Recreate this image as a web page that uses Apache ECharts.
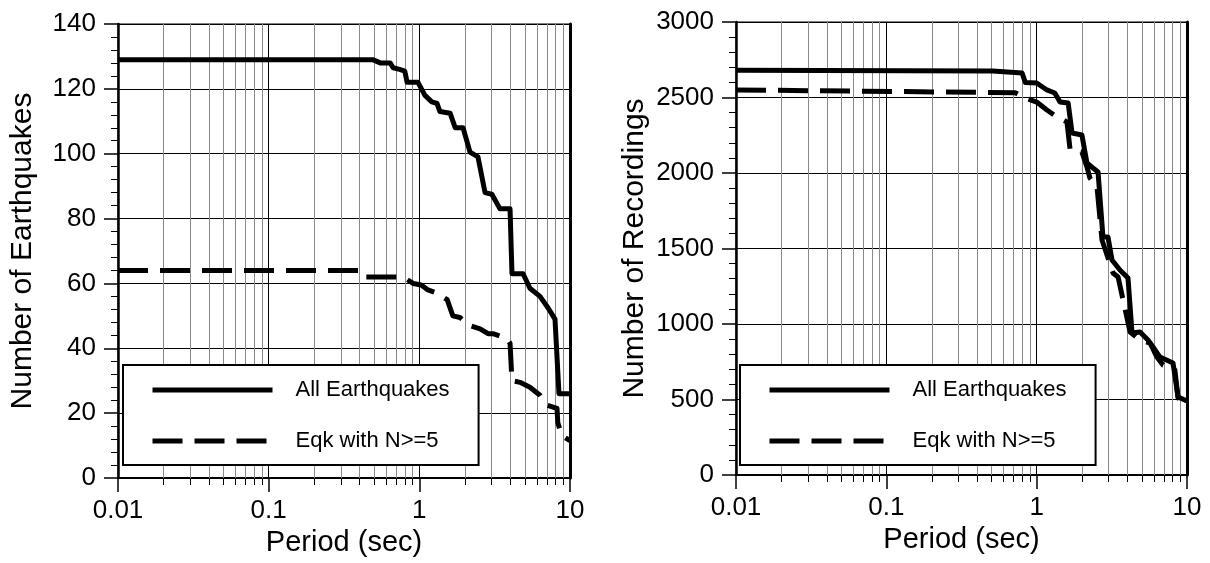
<!DOCTYPE html>
<html><head><meta charset="utf-8">
<script src="https://cdn.jsdelivr.net/npm/echarts@6/dist/echarts.min.js"></script>
<style>html,body{margin:0;padding:0;background:#fff}#c{width:1210px;height:563px}</style>
</head><body><div id="c"></div>
<script>
// ---- data ----
const xTickLabels = ['0.01', '0.1', '1', '10'];
const minorPeriods = [0.02,0.03,0.04,0.05,0.06,0.07,0.08,0.09,0.2,0.3,0.4,0.5,0.6,0.7,0.8,0.9,2,3,4,5,6,7,8,9];
const seriesNames = ['All Earthquakes', 'Eqk with N>=5'];

// Left: number of earthquakes
const eqAllPeriod = [0.01,0.49,0.55,0.64,0.67,0.74,0.80,0.83,0.98,1.09,1.21,1.31,1.37,1.60,1.73,1.95,2.17,2.45,2.73,3.03,3.43,4.00,4.12,4.88,5.42,6.32,7.14,7.95,8.45,10];
const eqAllCount  = [129,129,128,128,126.5,126,125.5,122,122,118,116,115.5,113,112.5,108,108,100.5,99,88,87.5,83,83,63,63,58.5,56,52.5,49,26,26];
const eqN5Period  = [0.01,0.415,0.44,0.78,0.91,1.03,1.14,1.31,1.53,1.67,1.86,2.17,2.53,2.86,3.08,3.82,4.00,4.12,4.66,5.42,6.32,7.03,8.20,8.30,8.85,10];
const eqN5Count   = [64,64,62,62,60,59.5,58,57,55,50,49.5,47,46,44.5,44.5,43,41.5,30,29.5,28,25.5,22.5,21.5,17,13,11.5];

// Right: number of recordings
const recAllPeriod = [0.01,0.51,0.80,0.84,1.00,1.17,1.32,1.43,1.62,1.72,2.00,2.16,2.37,2.56,2.76,2.98,3.17,3.58,4.05,4.31,4.87,5.50,5.94,6.61,8.07,8.72,10];
const recAllCount  = [2680,2675,2662,2600,2596,2550,2530,2470,2463,2265,2252,2066,2033,2007,1576,1576,1424,1358,1305,940,947,894,848,781,742,517,490];
const recN5Period  = [0.01,0.72,0.84,1.00,1.17,1.36,1.59,1.67,2.00,2.16,2.26,2.52,2.72,3.22,3.48,4.18,4.87,5.68,6.31,6.92,8.31,8.72,10];
const recN5Count   = [2550,2532,2497,2470,2417,2371,2338,2152,2139,2040,1967,1907,1556,1338,1311,947,894,874,781,728,695,510,477];

// ---- chart ----
const FONT = 'Liberation Sans';
const zip = (a, b) => a.map((v, i) => [v, b[i]]);

function minorRender(params, api) {
  const cs = params.coordSys;
  let x = api.coord([api.value(0), api.value(1)])[0];
  x = Math.round(x) + 0.5;
  const bottom = cs.y + cs.height;
  return {
    type: 'group',
    children: [
      { type: 'line', shape: { x1: x, y1: cs.y, x2: x, y2: bottom }, style: { stroke: '#8a8a8a', lineWidth: 1 } },
      { type: 'line', shape: { x1: x, y1: bottom, x2: x, y2: bottom + 7 }, style: { stroke: '#000', lineWidth: 1 } }
    ]
  };
}

function xAxisCfg(gi) {
  return {
    gridIndex: gi, type: 'log', logBase: 10, min: 0.01, max: 10,
    name: 'Period (sec)', nameLocation: 'middle', nameGap: 50,
    nameTextStyle: { fontFamily: FONT, fontSize: 29, color: '#000' },
    axisLine: { show: true, onZero: false, lineStyle: { color: '#000', width: 2 } },
    axisTick: { show: true, inside: false, length: 14, lineStyle: { color: '#000', width: 1.5 } },
    axisLabel: { fontFamily: FONT, fontSize: 26, color: '#000', margin: 20,
      formatter: v => { const i = Math.round(Math.log10(v)) + 2; return xTickLabels[i] !== undefined ? xTickLabels[i] : ''; } },
    splitLine: { show: true, lineStyle: { color: '#000', width: 1 } },
    minorTick: { show: false }, minorSplitLine: { show: false }
  };
}
function yAxisCfg(gi, max, interval, name, gap) {
  return {
    gridIndex: gi, type: 'value', min: 0, max: max, interval: interval,
    name: name, nameLocation: 'middle', nameGap: gap,
    nameTextStyle: { fontFamily: FONT, fontSize: 30, color: '#000' },
    axisLine: { show: true, lineStyle: { color: '#000', width: 2.5 } },
    axisTick: { show: true, inside: false, length: 14, lineStyle: { color: '#000', width: 1.5 } },
    minorTick: { show: true, splitNumber: 5, length: 7, lineStyle: { color: '#000', width: 1 } },
    axisLabel: { fontFamily: FONT, fontSize: 26, color: '#000', margin: 22, formatter: v => String(v) },
    splitLine: { show: true, lineStyle: { color: '#000', width: 1 } }
  };
}
function rightBorder(gi, max) {
  return {
    gridIndex: gi, type: 'value', min: 0, max: max, position: 'right',
    axisLine: { show: true, lineStyle: { color: '#000', width: 3 } },
    axisTick: { show: false }, axisLabel: { show: false }, splitLine: { show: false }
  };
}
function legendCfg(left) {
  return {
    left: left, top: 365, orient: 'vertical', data: seriesNames,
    itemWidth: 120, itemHeight: 14, itemGap: 27,
    padding: [13, 29, 12, 27],
    borderColor: '#000', borderWidth: 2, backgroundColor: '#fff',
    selectedMode: false,
    itemStyle: { opacity: 0 },
    lineStyle: { width: 5, color: '#000' },
    textStyle: { fontFamily: FONT, fontSize: 22, color: '#000', padding: [0, 0, 0, 18], lineHeight: 24 }
  };
}
function lineSeries(name, xi, yi, data, dashed) {
  return {
    name: name, type: 'line', xAxisIndex: xi, yAxisIndex: yi, data: data,
    symbol: 'none', showSymbol: false, z: 5, animation: false,
    lineStyle: { color: '#000', width: 5, type: dashed ? [30, 12] : 'solid', join: 'round', cap: 'butt' },
    itemStyle: { color: '#000' }
  };
}
function minorSeries(xi, yi) {
  return {
    type: 'custom', xAxisIndex: xi, yAxisIndex: yi, clip: false, z: 1, silent: true, animation: false,
    data: minorPeriods.map(p => [p, 0]), renderItem: minorRender
  };
}

const chart = echarts.init(document.getElementById('c'), null, { renderer: 'canvas' });
chart.setOption({
  animation: false,
  backgroundColor: '#fff',
  grid: [
    { left: 118, top: 24, width: 452, height: 454, show: true, borderColor: '#000', borderWidth: 1, containLabel: false },
    { left: 736, top: 22, width: 451, height: 453, show: true, borderColor: '#000', borderWidth: 1, containLabel: false }
  ],
  xAxis: [xAxisCfg(0), xAxisCfg(1)],
  yAxis: [
    yAxisCfg(0, 140, 20, 'Number of Earthquakes', 80),
    yAxisCfg(1, 3000, 500, 'Number of Recordings', 86),
    rightBorder(0, 140), rightBorder(1, 3000)
  ],
  legend: [legendCfg(123), legendCfg(740)],
  series: [
    minorSeries(0, 0), minorSeries(1, 1),
    lineSeries(seriesNames[0], 0, 0, zip(eqAllPeriod, eqAllCount), false),
    lineSeries(seriesNames[1], 0, 0, zip(eqN5Period, eqN5Count), true),
    lineSeries(seriesNames[0], 1, 1, zip(recAllPeriod, recAllCount), false),
    lineSeries(seriesNames[1], 1, 1, zip(recN5Period, recN5Count), true)
  ]
});
</script></body></html>
